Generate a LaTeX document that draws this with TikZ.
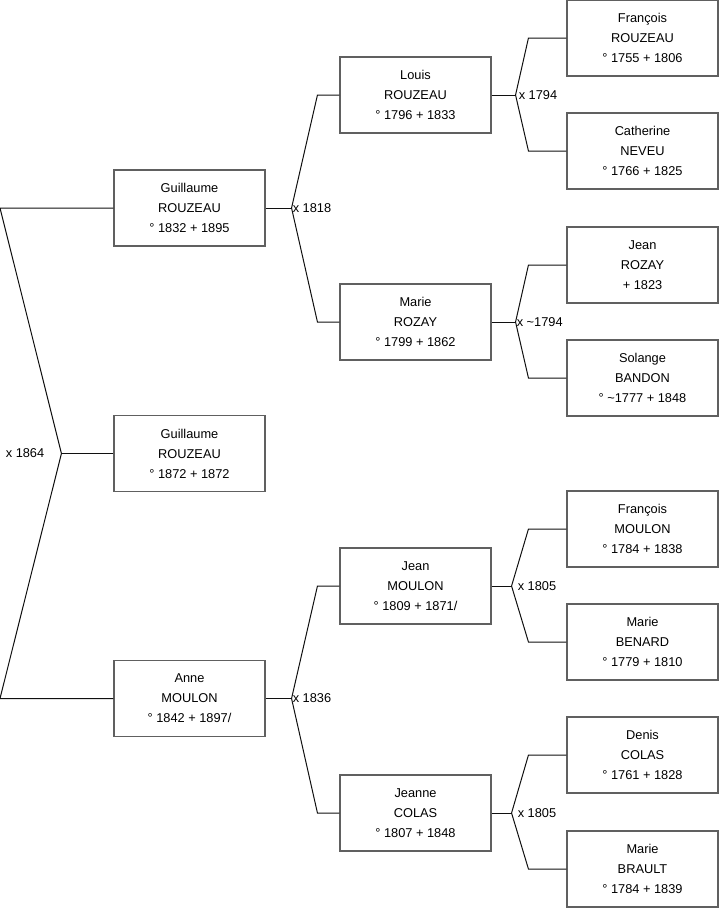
\documentclass[tikz,border=0pt]{standalone}
\usepackage{fontspec}
\setmainfont{Liberation Sans}
\definecolor{boxgray}{HTML}{606060}
\definecolor{linkgray}{HTML}{101010}
\usetikzlibrary{positioning}
\tikzset{
    person/.style={
        draw=boxgray,
        fill=white,
        line width=1.1pt,
        minimum width=151pt,
        minimum height=76pt,
        inner sep=0pt,
        align=center,
        font=\fontsize{12.8}{20}\selectfont
    },
    link/.style={
        draw=linkgray,
        line width=1pt
    },
    wedding/.style={
        inner sep=1pt,
        font=\fontsize{12.8}{14}\selectfont
    }
}

\begin{document}
\begin{tikzpicture}[x=1pt,y=-1pt]
        \useasboundingbox (0,0) rectangle (719,908);

        % generation 1
        \node[person] (guillaume) at (189.5,208) {Guillaume\\ROUZEAU\\° 1832 + 1895};
        \node[person] (child) at (189.5,453.5) {Guillaume\\ROUZEAU\\° 1872 + 1872};
        \node[person] (anne) at (189.5,698.5) {Anne\\MOULON\\° 1842 + 1897/};

        % generation 2
        \node[person] (louis) at (415.5,95) {Louis\\ROUZEAU\\° 1796 + 1833};
        \node[person] (marie) at (415.5,322) {Marie\\ROZAY\\° 1799 + 1862};
        \node[person] (jean) at (415.5,586) {Jean\\MOULON\\° 1809 + 1871/};
        \node[person] (jeanne) at (415.5,813) {Jeanne\\COLAS\\° 1807 + 1848};

        % generation 3
        \node[person] (francois) at (642.5,38) {François\\ROUZEAU\\° 1755 + 1806};
        \node[person] (catherine) at (642.5,151) {Catherine\\NEVEU\\° 1766 + 1825};
        \node[person] (jeanrozay) at (642.5,265) {Jean\\ROZAY\\+ 1823};
        \node[person] (solange) at (642.5,378) {Solange\\BANDON\\° \textasciitilde1777 + 1848};
        \node[person] (francoism) at (642.5,529) {François\\MOULON\\° 1784 + 1838};
        \node[person] (benard) at (642.5,642) {Marie\\BENARD\\° 1779 + 1810};
        \node[person] (denis) at (642.5,755) {Denis\\COLAS\\° 1761 + 1828};
        \node[person] (brault) at (642.5,869) {Marie\\BRAULT\\° 1784 + 1839};

        % parents of the child
        \draw[link] (child.west) -- ++(-52,0) coordinate (j0);
        \draw[link] (j0) -- (0,208) -- (guillaume.west);
        \draw[link] (j0) -- (0,698.5) -- (anne.west);
        \node[wedding,anchor=east] at ([xshift=-16]j0) {x 1864};

        % parents of Guillaume and Anne
        \draw[link] (guillaume.east) -- ++(26,0) coordinate (j1);
        \draw[link] (j1) -- ([xshift=-22]louis.west) -- (louis.west);
        \draw[link] (j1) -- ([xshift=-22]marie.west) -- (marie.west);
        \node[wedding,anchor=west] at (j1) {x 1818};

        \draw[link] (anne.east) -- ++(26,0) coordinate (j2);
        \draw[link] (j2) -- ([xshift=-22]jean.west) -- (jean.west);
        \draw[link] (j2) -- ([xshift=-22]jeanne.west) -- (jeanne.west);
        \node[wedding,anchor=west] at (j2) {x 1836};

        % grandparents
        \draw[link] (louis.east) -- ++(24,0) coordinate (j3);
        \draw[link] (j3) -- ([xshift=-38]francois.west) -- (francois.west);
        \draw[link] (j3) -- ([xshift=-38]catherine.west) -- (catherine.west);
        \node[wedding,anchor=west] at ([xshift=2]j3) {x 1794};

        \draw[link] (marie.east) -- ++(24,0) coordinate (j4);
        \draw[link] (j4) -- ([xshift=-38]jeanrozay.west) -- (jeanrozay.west);
        \draw[link] (j4) -- ([xshift=-38]solange.west) -- (solange.west);
        \node[wedding,anchor=west] at (j4) {x \textasciitilde1794};

        \draw[link] (jean.east) -- ++(20,0) coordinate (j5);
        \draw[link] (j5) -- ([xshift=-38]francoism.west) -- (francoism.west);
        \draw[link] (j5) -- ([xshift=-38]benard.west) -- (benard.west);
        \node[wedding,anchor=west] at ([xshift=5]j5) {x 1805};

        \draw[link] (jeanne.east) -- ++(20,0) coordinate (j6);
        \draw[link] (j6) -- ([xshift=-38]denis.west) -- (denis.west);
        \draw[link] (j6) -- ([xshift=-38]brault.west) -- (brault.west);
        \node[wedding,anchor=west] at ([xshift=5]j6) {x 1805};
\end{tikzpicture}
\end{document}
